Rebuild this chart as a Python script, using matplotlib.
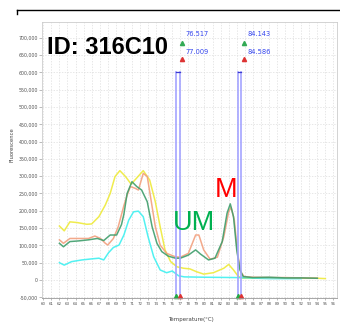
import numpy as np
import matplotlib
matplotlib.use('Agg')
from matplotlib import pyplot as plt
from matplotlib.lines import Line2D
from matplotlib.ticker import FuncFormatter

# melt curve data (temperature in C, fluorescence in thousands)
yellow_t = [62.0, 62.6, 63.3, 64.2, 65.4, 66.0, 66.9, 67.7, 68.3, 68.9, 69.5, 70.2, 70.9, 71.6,
            72.4, 73.2, 73.9, 74.5, 75.1, 75.8, 76.6, 77.4, 78.2, 79.0, 79.9, 81.1, 82.4, 83.0,
            83.6, 84.2, 84.8, 86.0, 88.0, 90.0, 92.0, 94.0, 95.0]
yellow_v = [156, 142, 168, 166, 161, 162, 183, 217, 250, 299, 316, 299, 277, 295,
            316, 289, 226, 154, 87, 53, 38, 34, 32, 24, 17, 21, 34, 45,
            29, 10, 5, 5, 6, 5, 5, 5, 4]

cyan_t = [62.0, 62.6, 63.5, 64.8, 66.0, 66.9, 67.5, 68.1, 68.7, 69.4, 70.0, 70.6, 71.2, 71.8,
          72.4, 73.0, 73.7, 74.5, 75.3, 76.0, 76.8, 77.5, 80.0, 84.0, 88.0, 92.0]
cyan_v = [50, 43, 53, 58, 61, 63, 58, 79, 94, 101, 130, 173, 197, 199,
          183, 125, 67, 29, 21, 26, 12, 9, 8, 7, 4, 4]

green_t = [62.0, 62.5, 63.3, 64.4, 65.6, 66.7, 67.5, 68.3, 69.1, 69.7, 70.0, 70.4, 71.0, 71.6,
           72.2, 72.9, 73.5, 74.1, 74.7, 75.5, 76.4, 77.0, 78.0, 78.9, 79.5, 80.5, 81.3, 82.2,
           82.8, 83.2, 83.6, 84.0, 84.4, 84.8, 86.0, 88.0, 90.0, 92.0, 94.0]
green_v = [106, 96, 111, 113, 116, 120, 114, 130, 130, 160, 190, 250, 284, 270,
           260, 226, 154, 106, 82, 69, 63, 63, 72, 87, 75, 58, 63, 111,
           193, 220, 183, 87, 29, 10, 7, 8, 6, 6, 5]

salmon_t = [62.0, 62.5, 63.3, 64.8, 65.6, 66.4, 67.1, 67.7, 68.0, 68.7, 69.3, 70.0, 70.4, 70.8,
            71.4, 71.8, 72.4, 72.9, 73.3, 73.9, 74.5, 75.3, 76.4, 77.0, 78.0, 78.9, 79.3, 79.9,
            80.7, 81.6, 82.4, 83.0, 83.3, 83.7, 84.1, 84.5, 84.9, 86.0, 88.0, 90.0, 92.0, 94.0]
salmon_v = [116, 106, 120, 120, 120, 127, 120, 106, 101, 120, 154, 215, 245, 270,
            265, 260, 308, 299, 241, 154, 101, 77, 67, 66, 77, 130, 130, 87,
            60, 66, 125, 197, 210, 173, 77, 24, 10, 8, 7, 7, 6, 5]

# melt peak cursors
cursor_lo = [76.517, 84.143]
cursor_hi = [77.009, 84.586]
cursor_top = 600000

curves = [(yellow_t, yellow_v, '#eeea3a'),
          (cyan_t, cyan_v, '#3ff0f0'),
          (salmon_t, salmon_v, '#f2a07e'),
          (green_t, green_v, '#3f9e6c')]

fig = plt.figure(figsize=(3.4, 3.27), dpi=100)
ax = fig.add_axes([42/340, 1-297.5/327, (337-42)/340, (297.5-22)/327])

for t, v, c in curves:
    ax.plot(t, np.array(v) * 1000, color=c, lw=1.1, alpha=0.9)

# cursor bands
for lo, hi in zip(cursor_lo, cursor_hi):
    ax.plot([lo, lo], [-50000, cursor_top], color='#a4a4ff', lw=1.2)
    ax.plot([hi, hi], [-50000, cursor_top], color='#a4a4ff', lw=1.2)
    ax.plot([lo, hi], [cursor_top, cursor_top], color='#3a3ad0', lw=0.9)
    ax.plot([lo], [-47000], marker='^', color='#22aa44', ms=3, clip_on=False)
    ax.plot([hi], [-47000], marker='^', color='#dd3333', ms=3, clip_on=False)

# cursor labels
label_x = [77.25, 84.95]
for lx, lo, hi in zip(label_x, cursor_lo, cursor_hi):
    ax.plot([lx], [686000], marker='^', color='#33aa55', ms=3)
    ax.plot([lx], [638000], marker='^', color='#dd3333', ms=3)
    ax.text(lx + 0.33, 711000, '%.3f' % lo, color='#3344ee', fontsize=4.8, va='center')
    ax.text(lx + 0.33, 660000, '%.3f' % hi, color='#3344ee', fontsize=4.8, va='center')

ax.text(60.46, 653000, 'ID: 316C10', fontsize=17, fontweight='bold',
        family='Liberation Sans', va='baseline')
ax.text(76.13, 144500, 'UM', fontsize=19.5, color='#00b050',
        family='Liberation Sans', va='baseline')
ax.text(81.3, 241000, 'M', fontsize=19.5, color='#ff0000',
        family='Liberation Sans', va='baseline')

ax.set_xlim(59.84, 96.44)
ax.set_ylim(-50600, 745600)
ax.set_xticks(np.arange(60, 97))
ax.set_yticks(np.arange(-50000, 700001, 50000))
ax.yaxis.set_major_formatter(FuncFormatter(lambda v, p: '{:,}'.format(int(v))))
ax.tick_params(axis='y', labelsize=3.4, length=2, width=0.4, colors='#888888',
               labelcolor='#555555', pad=1)
ax.tick_params(axis='x', labelsize=2.9, length=1.5, width=0.4, colors='#888888',
               labelcolor='#555555', pad=2)
ax.grid(True, color='#dddddd', lw=0.5, linestyle=(0, (2, 2)))
for s in ax.spines.values():
    s.set_color('#cccccc')
    s.set_linewidth(0.6)
ax.spines['bottom'].set_color('#999999')

fig.text(12/340, 1-145/327, 'Fluorescence', rotation=90, fontsize=3.8,
         color='#444444', ha='center', va='center')
fig.text(191/340, 1-320/327, 'Temperature(\u00b0C)', fontsize=4.0,
         color='#444444', ha='center', va='center')

# black frame line at top
fig.add_artist(Line2D([17/340, 1], [1-10/327, 1-10/327], color='black', lw=1))
fig.add_artist(Line2D([17/340, 17/340], [1-10/327, 1-14/327], color='black', lw=1))

fig.savefig('out.png', dpi=100)
